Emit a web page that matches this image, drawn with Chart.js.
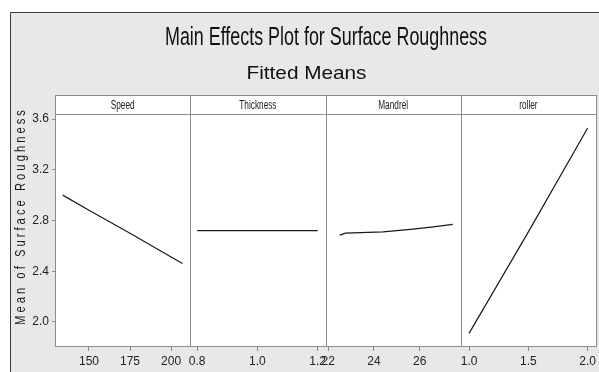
<!DOCTYPE html>
<html>
<head>
<meta charset="utf-8">
<script src="https://cdn.jsdelivr.net/npm/chart.js@4"></script>
<style>
  body { margin: 0; background: #fff; }
  #grafico { display: block; }
</style>
</head>
<body>
<canvas id="grafico" width="599" height="372"></canvas>
<script>
// valores
const titulo = 'Main Effects Plot for Surface Roughness';
const subtitulo = 'Fitted Means';
const tituloY = 'Mean of Surface Roughness';
const factores = ['Speed', 'Thickness', 'Mandrel', 'roller'];

const speedX = [134, 150, 175, 199, 207];
const speedY = [3.00, 2.88, 2.70, 2.52, 2.46];

const thicknessX = [0.8, 1.2];
const thicknessY = [2.72, 2.72];

const mandrelX = [22.5, 22.75, 24.4, 25.6, 26.6, 27.45];
const mandrelY = [2.685, 2.70, 2.71, 2.73, 2.75, 2.77];

const rollerX = [1.0, 1.5, 2.0];
const rollerY = [1.91, 2.71, 3.53];

const speedTicks = [150, 175, 200];
const thicknessTicks = [0.8, 1.0, 1.2];
const mandrelTicks = [22, 24, 26];
const rollerTicks = [1.0, 1.5, 2.0];
const yTicks = [2.0, 2.4, 2.8, 3.2, 3.6];

const fuente = "'Liberation Sans', Arial, sans-serif";
const gris = '#8c8c8c';

function puntos(xs, ys) {
    return xs.map((x, i) => ({ x: x, y: ys[i] }));
}

function ejeX(min, max, ticks, decimales) {
    return {
        type: 'linear',
        position: 'bottom',
        stack: 'paneles',
        stackWeight: 1,
        min: min,
        max: max,
        afterBuildTicks: s => { s.ticks = ticks.map(v => ({ value: v })); },
        afterFit: s => { s.height = 26; s.paddingLeft = 0; s.paddingRight = 0; },
        grid: { drawOnChartArea: false, tickLength: 5, color: gris },
        border: { display: false },
        ticks: {
            autoSkip: false,
            maxRotation: 0,
            padding: 3,
            color: '#222',
            font: { family: fuente, size: 12 },
            callback: v => Number(v).toFixed(decimales)
        }
    };
}

function serie(xs, ys, eje) {
    return {
        data: puntos(xs, ys),
        xAxisID: eje,
        yAxisID: 'y',
        showLine: true,
        borderColor: '#1a1a1a',
        borderWidth: 1.2,
        pointRadius: 0,
        tension: 0
    };
}

// texto estrecho, comprimido en horizontal
function textoEstrecho(ctx, txt, cx, base, size, escala) {
    ctx.save();
    ctx.font = size + 'px ' + fuente;
    ctx.translate(cx, base);
    ctx.scale(escala, 1);
    ctx.textAlign = 'center';
    ctx.textBaseline = 'alphabetic';
    ctx.fillText(txt, 0, 0);
    ctx.restore();
}

function textoAncho(ctx, txt, cx, base, size, ancho) {
    ctx.font = size + 'px ' + fuente;
    const w = ctx.measureText(txt).width;
    textoEstrecho(ctx, txt, cx, base, size, ancho / w);
}

const marco = {
    id: 'marco',
    beforeDraw(chart) {
        const ctx = chart.ctx;
        const a = chart.chartArea;
        ctx.save();
        ctx.fillStyle = '#fff';
        ctx.fillRect(0, 0, chart.width, chart.height);
        ctx.fillStyle = '#e8e8e8';
        ctx.fillRect(10, 12, chart.width, chart.height);
        ctx.strokeStyle = '#3a3a3a';
        ctx.lineWidth = 1;
        ctx.beginPath();
        ctx.moveTo(10.5, chart.height);
        ctx.lineTo(10.5, 12.5);
        ctx.lineTo(chart.width, 12.5);
        ctx.stroke();
        ctx.fillStyle = '#fff';
        ctx.fillRect(a.left, 95, a.right - a.left, a.bottom - 95);
        ctx.restore();
    },
    afterDraw(chart) {
        const ctx = chart.ctx;
        const a = chart.chartArea;
        const ejes = ['xSpeed', 'xThickness', 'xMandrel', 'xRoller'].map(id => chart.scales[id]);
        ctx.save();
        ctx.strokeStyle = gris;
        ctx.lineWidth = 1;
        ejes.forEach(e => {
            ctx.strokeRect(Math.round(e.left) + 0.5, 95.5, Math.round(e.right) - Math.round(e.left), a.bottom - 95);
        });
        ctx.beginPath();
        ctx.moveTo(a.left, a.top + 0.5);
        ctx.lineTo(a.right, a.top + 0.5);
        ctx.stroke();

        ctx.fillStyle = '#222';
        ejes.forEach((e, i) => {
            textoEstrecho(ctx, factores[i], (e.left + e.right) / 2, 109, 12, 0.69);
        });

        ctx.fillStyle = '#111';
        textoAncho(ctx, titulo, 326, 45, 26, 322);
        textoAncho(ctx, subtitulo, 306.5, 79, 19, 120);

        // titulo del eje y, letras estrechas y separadas
        ctx.translate(25, 217.5);
        ctx.rotate(-Math.PI / 2);
        ctx.scale(0.75, 1);
        ctx.font = '15px ' + fuente;
        ctx.fillStyle = '#1a1a1a';
        const total = 215 / 0.75;
        const n = tituloY.length;
        const natural = ctx.measureText(tituloY).width;
        ctx.letterSpacing = ((total - natural) / (n - 1)) + 'px';
        ctx.textAlign = 'left';
        ctx.textBaseline = 'alphabetic';
        ctx.fillText(tituloY, -total / 2, 0);
        ctx.restore();
    }
};

new Chart(document.getElementById('grafico'), {
    type: 'scatter',
    data: {
        datasets: [
            serie(speedX, speedY, 'xSpeed'),
            serie(thicknessX, thicknessY, 'xThickness'),
            serie(mandrelX, mandrelY, 'xMandrel'),
            serie(rollerX, rollerY, 'xRoller')
        ]
    },
    options: {
        responsive: false,
        animation: false,
        layout: { padding: { top: 114, right: 3, left: 0, bottom: 0 } },
        plugins: {
            legend: { display: false },
            tooltip: { enabled: false }
        },
        scales: {
            xSpeed: ejeX(129.3, 211.7, speedTicks, 0),
            xThickness: ejeX(0.777, 1.226, thicknessTicks, 1),
            xMandrel: ejeX(21.88, 27.8, mandrelTicks, 0),
            xRoller: ejeX(0.93, 2.07, rollerTicks, 1),
            y: {
                type: 'linear',
                position: 'left',
                min: 1.81,
                max: 3.64,
                afterBuildTicks: s => { s.ticks = yTicks.map(v => ({ value: v })); },
                afterFit: s => { s.width = 55; s.paddingTop = 0; s.paddingBottom = 0; },
                grid: { drawOnChartArea: false, tickLength: 3, color: gris },
                border: { display: false },
                ticks: {
                    padding: 3,
                    color: '#222',
                    font: { family: fuente, size: 12 },
                    callback: v => Number(v).toFixed(1)
                }
            }
        }
    },
    plugins: [marco]
});
</script>
</body>
</html>
